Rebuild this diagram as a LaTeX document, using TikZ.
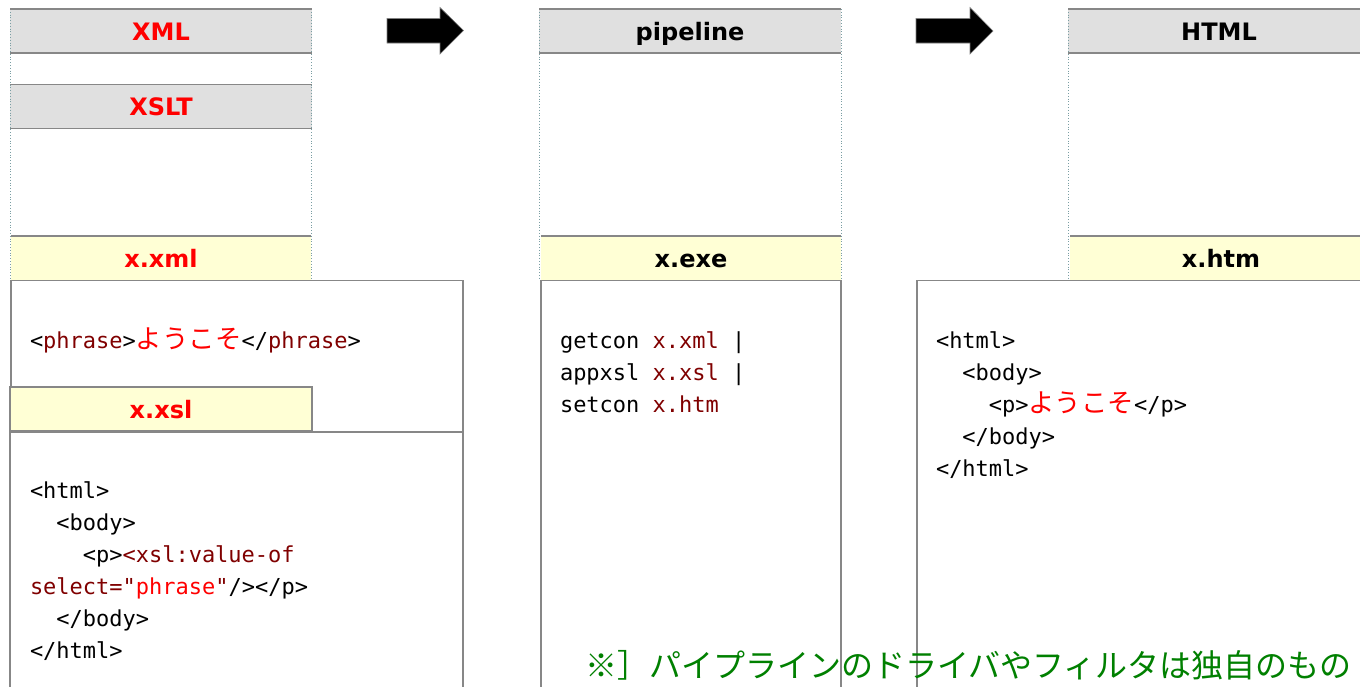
\documentclass[tikz,border=0pt]{standalone}
\usepackage{fontspec}
\setmainfont{DejaVu Sans}
\setmonofont{DejaVu Sans Mono}
\newfontfamily\cjk{Noto Sans CJK JP}
\definecolor{hgray}{HTML}{E0E0E0}
\definecolor{hyel}{HTML}{FFFFD5}
\definecolor{bord}{HTML}{878787}
\definecolor{dotc}{HTML}{7A9EA3}
\definecolor{mar}{HTML}{800000}
\definecolor{xred}{HTML}{FF0000}
\definecolor{jgreen}{HTML}{008000}
\newcommand\jpw[1]{{\cjk\fontsize{26.4}{32}\selectfont #1}}
\begin{document}
\begin{tikzpicture}[x=1pt,y=-1pt,
  hdr/.style={anchor=north west, fill=hgray, inner sep=0pt, outer sep=0pt,
    minimum width=302pt, minimum height=44pt, text height=20pt, text depth=2pt,
    font=\bfseries\fontsize{24}{28}\selectfont},
  fhdr/.style={hdr, fill=hyel},
  codebox/.style={anchor=north west, fill=white, draw=bord, line width=1.2pt,
    inner sep=0pt, outer sep=0pt},
  edge/.style={draw=bord, line width=1.2pt},
  guide/.style={draw=dotc, dotted, line width=0.8pt},
  cl/.style={anchor=base west, inner sep=0pt, outer sep=0pt,
    font=\ttfamily\fontsize{22}{32}\selectfont},
  barrow/.style={fill=black, draw=gray, line width=0.6pt}]
\useasboundingbox (0,0) rectangle (1360,686);
\clip (0,0) rectangle (1360,686);
\fill[white] (0,0) rectangle (1360,686);

% ---------- column 1 ----------
\node[hdr, text=xred] (xml) at (10,9) {XML};
\node[hdr, text=xred] (xslt) at (10,84.5) {XSLT};
\node[fhdr, text=xred, minimum width=300pt] (xxml) at (11,236) {x.xml};
\coordinate (c1tl) at (10,9);
\coordinate (c1bl) at (10,280);
\coordinate (c1tr) at (311,9);
\coordinate (c1br) at (311,280);
\draw[guide] (c1tl) -- (c1bl);
\draw[guide] (c1tr) -- (c1br);
\draw[edge] (xml.north west) -- (xml.north east);
\draw[edge] (xml.south west) -- (xml.south east);
\draw[edge] (xslt.north west) -- (xslt.north east);
\draw[edge] (xslt.south west) -- (xslt.south east);
\draw[edge] (xxml.north west) -- (xxml.north east);

\node[codebox, minimum width=452pt, minimum height=420pt] (xmlbox) at (11,280.5) {};
\node[cl] (xmlline) at (30,348) {<\textcolor{mar}{phrase}>\textcolor{xred}{\jpw{ようこそ}}</\textcolor{mar}{phrase}>};

\node[codebox, minimum width=453pt, minimum height=300pt] (xslbox) at (10,432) {};
\node[hdr, fill=hyel, draw=bord, line width=1.2pt, text=xred] (xxsl) at (10,387) {x.xsl};
\node[cl] (s1) at (30,498) {<html>};
\node[cl] (s2) at (56.4,530) {<body>};
\node[cl] (s3) at (82.8,562) {<p>\textcolor{mar}{<xsl:value-of}};
\node[cl] (s4) at (30,594) {\textcolor{mar}{select="}\textcolor{xred}{phrase}\textcolor{mar}{"}/></p>};
\node[cl] (s5) at (56.4,626) {</body>};
\node[cl] (s6) at (30,658) {</html>};

% ---------- arrows ----------
\draw[barrow] (387,18.5) -- (440,18.5) -- (440,7.5) -- (463.5,30.5) -- (440,54) -- (440,43) -- (387,43) -- cycle;
\draw[barrow] (916,18.5) -- (970,18.5) -- (970,7.5) -- (993,31) -- (970,54) -- (970,43) -- (916,43) -- cycle;

% ---------- column 2 ----------
\node[hdr, text=black] (pipe) at (539,9) {pipeline};
\node[fhdr, text=black, minimum width=300pt] (xexe) at (541,236) {x.exe};
\coordinate (c2tl) at (539,9);
\coordinate (c2bl) at (539,280);
\coordinate (c2tr) at (841,9);
\coordinate (c2br) at (841,280);
\draw[guide] (c2tl) -- (c2bl);
\draw[guide] (c2tr) -- (c2br);
\draw[edge] (pipe.north west) -- (pipe.north east);
\draw[edge] (pipe.south west) -- (pipe.south east);
\draw[edge] (xexe.north west) -- (xexe.north east);
\node[codebox, minimum width=300pt, minimum height=420pt] (exebox) at (541,280.5) {};
\node[cl] (p1) at (560,348) {getcon \textcolor{mar}{x.xml} |};
\node[cl] (p2) at (560,380) {appxsl \textcolor{mar}{x.xsl} |};
\node[cl] (p3) at (560,412) {setcon \textcolor{mar}{x.htm}};

% ---------- column 3 ----------
\node[hdr, text=black] (html) at (1068,9) {HTML};
\node[fhdr, text=black, minimum width=302pt] (xhtm) at (1070,236) {x.htm};
\coordinate (c3tl) at (1068,9);
\coordinate (c3bl) at (1068,280);
\draw[guide] (c3tl) -- (c3bl);
\draw[edge] (html.north west) -- (html.north east);
\draw[edge] (html.south west) -- (html.south east);
\draw[edge] (xhtm.north west) -- (xhtm.north east);
\node[codebox, minimum width=460pt, minimum height=420pt] (htmbox) at (917,280.5) {};
\node[cl] (h1) at (936,348) {<html>};
\node[cl] (h2) at (962.4,380) {<body>};
\node[cl] (h3) at (988.8,412) {<p>\textcolor{xred}{\jpw{ようこそ}}</p>};
\node[cl] (h4) at (962.4,444) {</body>};
\node[cl] (h5) at (936,476) {</html>};

% ---------- note ----------
\node[anchor=base west, inner sep=0pt, text=jgreen,
  font=\cjk\fontsize{32}{36}\selectfont] (note) at (585,677)
  {※］パイプラインのドライバやフィルタは独自のもの};
\end{tikzpicture}
\end{document}
